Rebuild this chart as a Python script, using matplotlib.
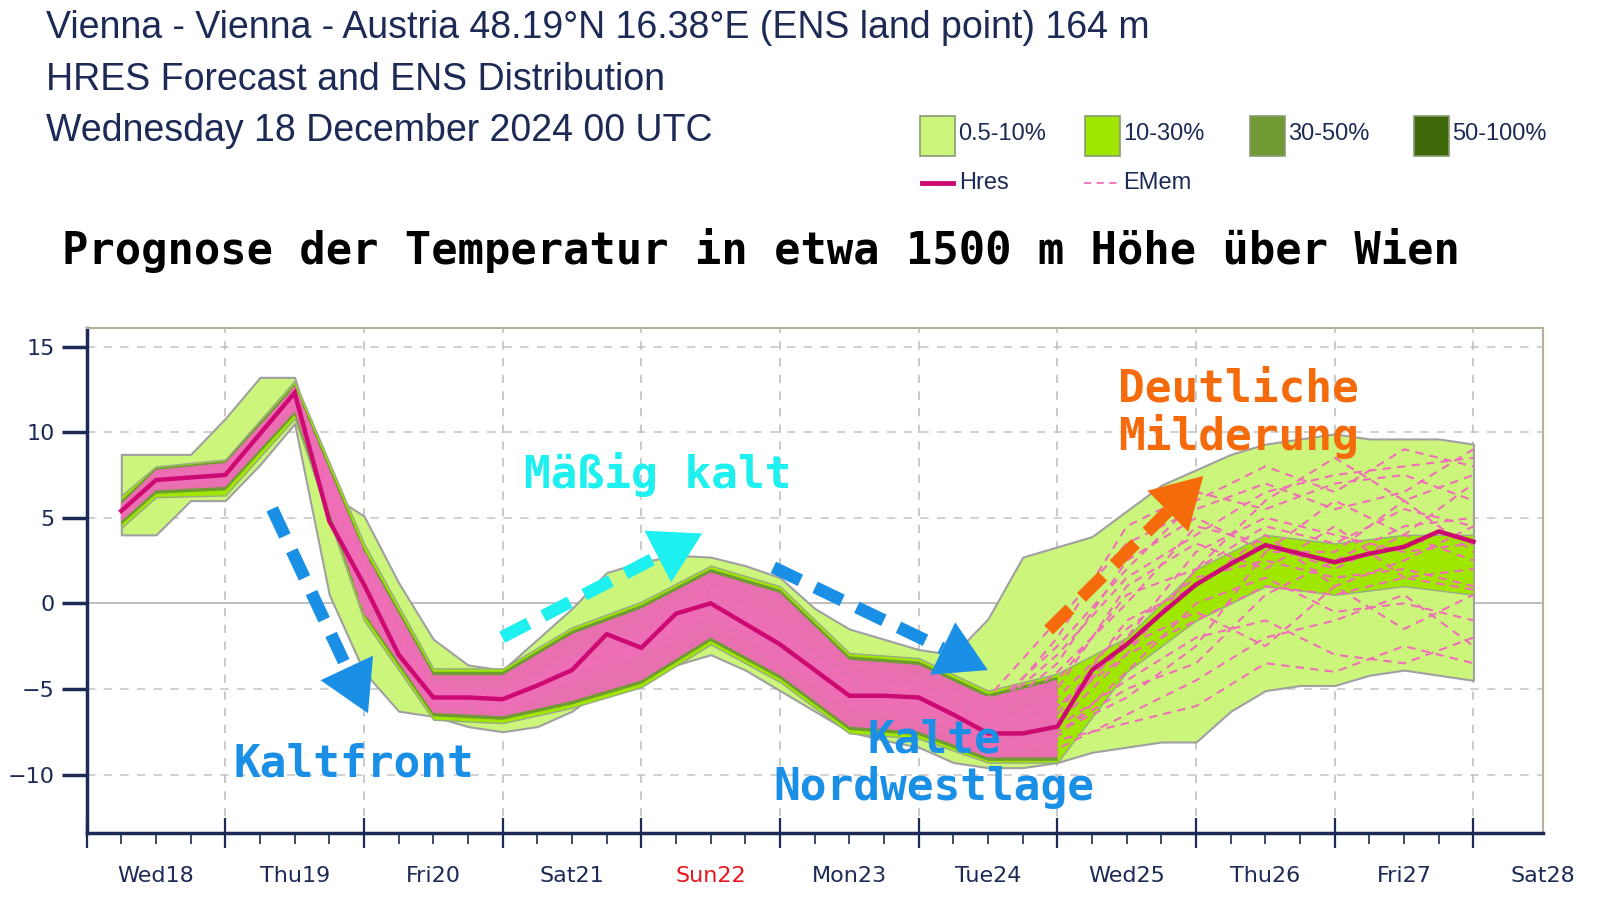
import numpy as np
import matplotlib
matplotlib.use("Agg")
import matplotlib.pyplot as plt
from matplotlib.patches import Polygon

# time axis in days after Wed 18 00 UTC
t = [0.25, 0.5, 0.75, 1.0, 1.25, 1.5, 1.75, 2.0, 2.25, 2.5, 2.75, 3.0, 3.25, 3.5, 3.75,
     4.0, 4.25, 4.5, 4.75, 5.0, 5.25, 5.5, 5.75, 6.0, 6.25, 6.5, 6.75, 7.0, 7.25, 7.5,
     7.75, 8.0, 8.25, 8.5, 8.75, 9.0, 9.25, 9.5, 9.75, 10.0]
hres = [5.4, 7.2, 7.35, 7.5, 9.9, 12.3, 4.8, 1.1, -3.0, -5.5, -5.5, -5.6, -4.8, -3.9, -1.8,
        -2.6, -0.6, 0.0, -1.2, -2.4, -3.9, -5.4, -5.4, -5.5, -6.5, -7.6, -7.6, -7.2, -3.9, -2.4,
        -0.6, 1.1, 2.3, 3.4, 2.9, 2.4, 2.9, 3.3, 4.2, 3.6]
# outer envelope of the ENS distribution (0.5-10 %)
outer_lo = [4.0, 4.0, 6.0, 6.0, 8.1, 10.5, 0.5, -4.0, -6.3, -6.6, -7.2, -7.5, -7.2, -6.3, -4.8,
            -4.5, -3.6, -3.0, -3.9, -5.1, -6.3, -7.5, -8.0, -8.4, -9.3, -9.6, -9.6, -9.3, -8.7, -8.4,
            -8.1, -8.1, -6.3, -5.1, -4.8, -4.8, -4.2, -3.9, -4.2, -4.5]
outer_hi = [8.7, 8.7, 8.7, 10.8, 13.2, 13.2, 6.4, 5.1, 1.2, -2.1, -3.6, -3.9, -2.1, -0.3, 1.8,
            2.4, 2.8, 2.7, 2.2, 1.5, -0.3, -1.5, -2.1, -2.7, -3.0, -0.9, 2.7, 3.3, 3.9, 5.4,
            6.9, 7.8, 8.7, 9.3, 9.6, 9.9, 9.6, 9.6, 9.6, 9.3]

# 12-hourly values for inner bands and members
tm = [0.25, 0.5, 1.0, 1.5, 2.0, 2.5, 3.0, 3.5, 4.0, 4.5, 5.0, 5.5, 6.0, 6.5, 7.0, 7.5,
      8.0, 8.5, 9.0, 9.5, 10.0]
bright_lo = [4.4, 6.2, 6.3, 10.8, -1.0, -6.8, -7.0, -6.1, -4.9, -2.4, -4.6, -7.6, -7.9, -9.3,
             -9.3, -4.0, -1.0, 1.0, 0.5, 1.0, 0.5]
bright_hi = [6.3, 8.0, 8.4, 13.0, 3.5, -3.8, -3.8, -1.4, 0.1, 2.2, 1.0, -2.9, -3.2, -5.1,
             -4.1, -2.0, 2.0, 4.0, 3.5, 4.0, 4.0]
olive_lo = [4.6, 6.4, 6.6, 11.0, -0.7, -6.6, -6.8, -5.9, -4.7, -2.2, -4.4, -7.4, -7.7, -9.2,
            -9.2, -4.0, 0.0, 1.5, 1.0, 1.5, 1.0]
olive_hi = [6.0, 7.9, 8.3, 12.8, 3.2, -4.0, -4.0, -1.6, -0.1, 2.0, 0.8, -3.1, -3.4, -5.3,
            -4.3, -1.0, 2.0, 3.5, 3.0, 4.0, 4.0]
pink_lo = [4.8, 6.6, 6.8, 11.2, -0.5, -6.4, -6.6, -5.7, -4.5, -2.0, -4.2, -7.2, -7.5, -9.0,
           -9.0, -5.5, -1.5, 0.0, -0.5, 0.0, -0.5]
pink_hi = [5.8, 7.8, 8.2, 12.6, 3.0, -4.2, -4.2, -1.8, -0.3, 1.8, 0.6, -3.3, -3.6, -5.5,
           -4.5, 1.0, 4.0, 5.0, 5.0, 5.5, 5.0]

members = [
    [5.0, 7.5, 8.0, 11.5, 3.0, -4.8, -5.2, -3.2, -1.8, 0.8, -1.5, -4.5, -5.0, -6.5, -3.0, 1.5, 4.0, 6.5, 7.5, 8.0, 8.5],
    [5.6, 7.0, 7.2, 12.0, 0.5, -5.8, -6.0, -4.2, -2.2, -0.5, -3.0, -5.8, -6.2, -8.0, -8.5, -6.5, -4.5, -2.0, -1.0, 0.5, -2.5],
    [5.2, 7.4, 7.8, 12.5, 2.0, -5.0, -5.5, -3.5, -1.5, 1.2, -1.0, -4.0, -4.8, -5.5, -1.0, 3.5, 5.5, 7.0, 5.5, 6.5, 9.0],
    [5.5, 7.1, 7.6, 11.8, 1.5, -5.4, -5.8, -4.5, -2.8, -0.3, -2.8, -5.6, -5.8, -7.0, -6.0, -3.0, -1.0, 1.0, 0.5, 1.5, 0.8],
    [5.3, 7.3, 7.4, 12.2, -0.5, -6.0, -6.2, -4.0, -2.0, 0.3, -2.0, -5.0, -6.5, -7.8, -7.5, -5.0, -3.5, 0.5, 2.5, 4.5, 5.0],
    [5.4, 7.2, 7.7, 12.6, 2.5, -5.2, -5.0, -3.0, -1.2, 1.5, -0.5, -3.5, -4.5, -6.0, -4.5, 0.5, 2.0, 4.5, 3.5, 5.5, 4.5],
    [5.1, 7.0, 7.3, 11.9, 0.0, -5.6, -6.4, -4.8, -3.0, -1.0, -3.5, -6.0, -6.8, -8.5, -8.0, -7.0, -6.0, -3.5, -4.0, -2.5, -3.5],
    [5.5, 7.4, 7.9, 12.3, 1.8, -5.3, -5.4, -3.6, -2.4, 0.6, -1.8, -4.8, -5.2, -7.2, -5.5, -1.5, 1.5, 2.5, 1.5, 2.0, 1.0],
    [5.2, 7.3, 7.5, 12.1, 0.8, -5.7, -5.9, -3.8, -2.6, 0.2, -2.2, -5.2, -5.9, -7.4, -6.8, -2.0, 3.0, 5.0, 4.0, 3.0, 3.5],
    [5.6, 7.1, 7.6, 12.4, 1.2, -5.1, -5.5, -4.1, -2.3, -0.2, -2.6, -5.5, -5.4, -6.8, -2.0, 4.5, 6.5, 5.5, 7.0, 7.5, 6.0],
    [5.3, 7.2, 7.4, 12.0, 1.0, -5.5, -5.7, -3.7, -2.7, 0.1, -2.3, -5.3, -6.0, -8.2, -7.8, -4.0, 0.0, 1.5, -0.5, 0.0, -1.0],
    [5.4, 7.3, 7.6, 12.2, 1.4, -5.4, -5.6, -3.9, -2.5, 0.4, -2.1, -5.1, -5.6, -7.0, -4.0, 0.0, 4.5, 3.5, 2.0, 4.0, 2.5],
    [5.4, 7.2, 7.5, 12.3, 1.6, -5.6, -5.8, -4.0, -2.4, 0.2, -2.4, -5.4, -5.8, -7.6, -7.0, -3.0, 2.0, 6.0, 8.5, 6.0, 7.5],
    [5.3, 7.1, 7.6, 12.1, 0.6, -5.9, -6.1, -4.3, -2.9, -0.4, -2.9, -5.7, -6.1, -7.9, -7.2, -4.5, -2.0, -1.0, -3.0, -3.5, -2.0],
    [5.5, 7.3, 7.4, 12.4, 2.2, -5.0, -5.3, -3.4, -2.0, 0.9, -1.6, -4.6, -5.3, -6.8, -3.5, 2.5, 5.0, 3.0, 6.0, 4.0, 7.0],
    [5.2, 7.2, 7.7, 12.2, 1.3, -5.5, -5.7, -3.8, -2.5, 0.0, -2.4, -5.4, -5.7, -7.3, -6.5, -1.0, 1.0, 4.0, 1.0, 2.5, 4.5],
    [5.4, 7.4, 7.5, 12.0, 0.9, -5.6, -6.0, -4.1, -2.7, -0.1, -2.5, -5.5, -6.1, -7.7, -5.0, 1.0, 3.5, 2.0, 4.5, 1.5, 2.0],
    [5.6, 7.2, 7.6, 12.5, 1.9, -5.2, -5.3, -3.5, -2.1, 0.7, -1.9, -4.9, -5.0, -6.6, -7.5, -5.5, -2.5, 3.0, 3.0, 6.0, 3.0],
    [5.1, 7.1, 7.3, 11.8, 0.3, -5.9, -6.3, -4.4, -2.8, -0.6, -3.2, -5.9, -6.4, -8.0, -6.0, -2.5, -0.5, -2.5, 1.0, -1.5, 0.5],
    [5.3, 7.3, 7.7, 12.3, 2.1, -5.1, -5.2, -3.3, -1.9, 1.0, -1.4, -4.4, -4.9, -6.2, -2.5, 2.0, 6.0, 8.0, 6.5, 9.0, 8.0],
]

day_labels = ["Wed18", "Thu19", "Fri20", "Sat21", "Sun22", "Mon23", "Tue24", "Wed25",
              "Thu26", "Fri27", "Sat28"]
legend_labels = ["0.5-10%", "10-30%", "30-50%", "50-100%"]
band_colors = ["#ccf57c", "#9fe600", "#6f9a34", "#3e6a0c"]

navy = "#1c2a55"
hres_c = "#cc0a72"
pink = "#f06eb8"
blue = "#1a8fe6"
cyan = "#1ef0f0"
orange = "#f56a0a"

fig = plt.figure(figsize=(16.16, 9.09), dpi=100)
ax = fig.add_axes([0.0536, 0.0839, 0.9011, 0.5556])
ax.set_xlim(0, 10.5)
ax.set_ylim(-13.4, 16.1)

# ENS distribution shading
tm_a = np.array(tm)
ax.fill_between(t, outer_lo, outer_hi, facecolor=band_colors[0], edgecolor="#a0a0a0",
                linewidth=1.5, zorder=2)
ax.fill_between(tm, bright_lo, bright_hi, facecolor=band_colors[1], edgecolor="#9aa88a",
                linewidth=1.0, zorder=3)
ax.fill_between(tm, olive_lo, olive_hi, where=tm_a <= 7.0, facecolor=band_colors[2],
                linewidth=0, zorder=3)
ax.fill_between(tm, pink_lo, pink_hi, where=tm_a <= 7.0, facecolor=pink, linewidth=0,
                alpha=0.95, zorder=4)
for m in members:
    ax.plot(tm, m, color=pink, lw=1.5, ls=(0, (4, 3)), zorder=5)
ax.plot(t, hres, color=hres_c, lw=3.2, zorder=6, solid_joinstyle="miter")

# axes styling
ax.set_yticks([-10, -5, 0, 5, 10, 15])
ax.set_xticks(range(11))
ax.set_xticks(np.arange(0, 10.01, 0.25), minor=True)
ax.set_xticklabels([])
for yv in [-10, -5, 5, 10, 15]:
    ax.axhline(yv, color="#c8c8c8", lw=1.2, ls=(0, (5, 5)), zorder=1)
ax.axhline(0, color="#b4b4b4", lw=1.2, zorder=1)
for xv in range(1, 11):
    ax.axvline(xv, color="#c0c0c0", lw=1.2, ls=(0, (5, 5)), zorder=1)
ax.tick_params(axis="y", direction="out", length=18, width=2.5, color=navy,
               labelsize=16, labelcolor=navy, pad=5)
ax.tick_params(axis="x", which="major", direction="inout", length=22, width=1.6, color=navy)
ax.tick_params(axis="x", which="minor", direction="out", length=8, width=1.2, color=navy)
for i, lab in enumerate(day_labels):
    ax.text(i + 0.5, -15.9, lab, ha="center", va="center", fontsize=16,
            color="#e8141e" if lab == "Sun22" else navy, clip_on=False)
ax.spines["left"].set_color(navy)
ax.spines["left"].set_linewidth(2.5)
ax.spines["bottom"].set_color(navy)
ax.spines["bottom"].set_linewidth(2.5)
for s in ["top", "right"]:
    ax.spines[s].set_color("#b8b09a")
    ax.spines[s].set_linewidth(1.5)


# annotation arrows: dashed shaft + solid triangular head (sizes in pixels)
def dashed_arrow(x0, y0, x1, y1, c, head_len=50, head_w=58):
    p0 = ax.transData.transform((x0, y0))
    p1 = ax.transData.transform((x1, y1))
    u = (p1 - p0) / np.hypot(*(p1 - p0))
    n = np.array([-u[1], u[0]])
    base = p1 - u * head_len
    inv = ax.transData.inverted()
    b = inv.transform(base)
    ax.plot([x0, b[0]], [y0, b[1]], color=c, lw=9, ls=(0, (2.4, 1.3)),
            dash_capstyle="butt", zorder=8)
    tri = inv.transform([p1, base + n * head_w / 2, base - n * head_w / 2])
    ax.add_patch(Polygon(tri, closed=True, facecolor=c, edgecolor="none", zorder=8))


dashed_arrow(1.338, 5.52, 2.029, -6.42, blue)
dashed_arrow(2.996, -1.98, 4.439, 4.08, cyan)
dashed_arrow(4.952, 2.10, 6.498, -3.90, blue)
dashed_arrow(6.937, -1.56, 8.052, 7.44, orange)

mono = dict(family="DejaVu Sans Mono", fontweight="bold", fontsize=32, zorder=9)
ax.text(1.93, -9.36, "Kaltfront", color=blue, ha="center", va="center", **mono)
ax.text(4.12, 7.5, "Mäßig kalt", color=cyan, ha="center", va="center", **mono)
ax.text(6.11, -9.36, "Kalte\nNordwestlage", color=blue, ha="center", va="center",
        linespacing=1.15, multialignment="center", **mono)
ax.text(7.44, 11.1, "Deutliche\nMilderung", color=orange, ha="left", va="center",
        linespacing=1.1, **mono)

# header
hdr = dict(family="Liberation Sans", fontsize=27, color=navy, ha="left", va="center")
fig.text(0.0287, 1 - 27 / 882, "Vienna - Vienna - Austria 48.19°N 16.38°E (ENS land point) 164 m", **hdr)
fig.text(0.0287, 1 - 78 / 882, "HRES Forecast and ENS Distribution", **hdr)
fig.text(0.0287, 1 - 127 / 882, "Wednesday 18 December 2024 00 UTC", **hdr)

fig.text(0.0383, 1 - 243 / 882, "Prognose der Temperatur in etwa 1500 m Höhe über Wien",
         family="DejaVu Sans Mono", fontweight="bold", fontsize=31.5, color="black",
         ha="left", va="center")

# legend
box_x = [893, 1053, 1213, 1372]
for bx, lab, col in zip(box_x, legend_labels, band_colors):
    fig.patches.append(plt.Rectangle((bx / 1568, 1 - 151 / 882), 34 / 1568, 38 / 882,
                                     transform=fig.transFigure, facecolor=col,
                                     edgecolor="#8a9a70", lw=1.2))
    fig.text((bx + 37) / 1568, 1 - 130 / 882, lab, fontsize=17, color=navy,
             family="Liberation Sans", ha="left", va="center")
fig.lines.append(plt.Line2D([895 / 1568, 925 / 1568], [1 - 178 / 882] * 2,
                            transform=fig.transFigure, color=hres_c, lw=3.5))
fig.text(931 / 1568, 1 - 178 / 882, "Hres", fontsize=17, color=navy,
         family="Liberation Sans", ha="left", va="center")
fig.lines.append(plt.Line2D([1052 / 1568, 1086 / 1568], [1 - 178 / 882] * 2,
                            transform=fig.transFigure, color=pink, lw=1.3, ls=(0, (4, 3))))
fig.text(1090 / 1568, 1 - 178 / 882, "EMem", fontsize=17, color=navy,
         family="Liberation Sans", ha="left", va="center")

fig.savefig("out.png", dpi=100)
